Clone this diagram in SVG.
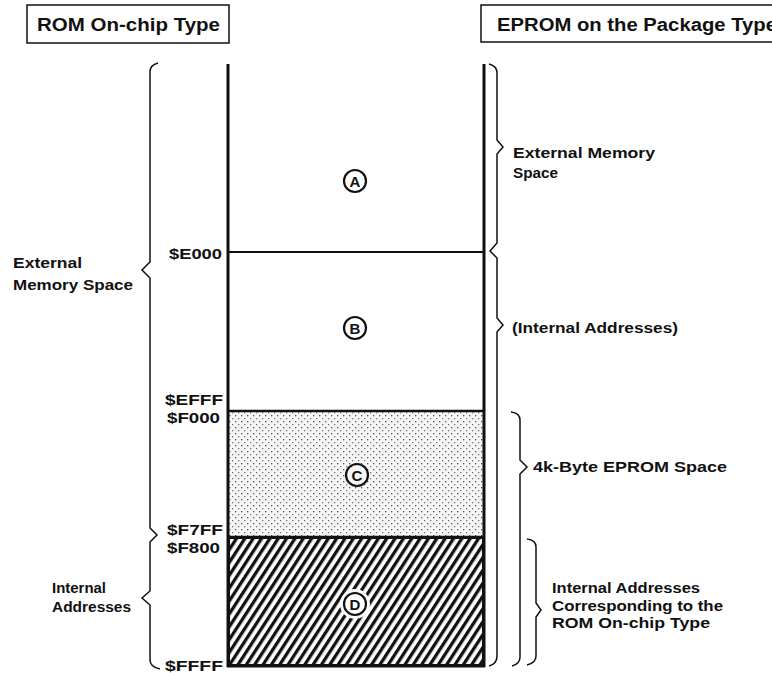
<svg xmlns="http://www.w3.org/2000/svg" width="772" height="673" viewBox="0 0 772 673">
<style>
.t{font-family:"Liberation Sans",Arial,sans-serif;font-weight:bold;fill:#111;}
.lbl{font-size:14px;}
.addr{font-size:15px;}
.title{font-size:18px;}
.br{fill:none;stroke:#111;stroke-width:1.5;stroke-linejoin:miter;}
.col{stroke:#111;stroke-width:3;fill:none;}
.circ{fill:none;stroke:#111;stroke-width:2.2;}
.cl{font-family:"Liberation Sans",Arial,sans-serif;font-weight:bold;font-size:15px;fill:#111;text-anchor:middle;}
</style>
<defs>
<pattern id="dots" width="6" height="6" patternUnits="userSpaceOnUse">
<rect width="6" height="6" fill="#f6f6f6"/>
<rect x="1" y="1" width="1.3" height="1.3" fill="#555"/>
<rect x="4" y="4" width="1.3" height="1.3" fill="#777"/>
</pattern>
<pattern id="hatch" width="7" height="7" patternUnits="userSpaceOnUse" patternTransform="rotate(33)">
<rect width="7" height="7" fill="#fff"/>
<rect width="3.3" height="7" fill="#111"/>
</pattern>
</defs>
<rect width="772" height="673" fill="#fff"/>

<g id="title-rom">
<rect x="27" y="5" width="202" height="38" fill="none" stroke="#111" stroke-width="1.5"/>
<text class="t title" x="37" y="31" textLength="183" lengthAdjust="spacingAndGlyphs">ROM On-chip Type</text>
</g>
<g id="title-eprom">
<rect x="481" y="5" width="300" height="37" fill="none" stroke="#111" stroke-width="1.5"/>
<text class="t title" x="497" y="31" textLength="280" lengthAdjust="spacingAndGlyphs">EPROM on the Package Type</text>
</g>

<g id="region-A">
<circle class="circ" cx="355" cy="181" r="11"/>
<text class="cl" x="355" y="186.5">A</text>
</g>
<g id="region-B">
<circle class="circ" cx="355" cy="328" r="11"/>
<text class="cl" x="355" y="333.5">B</text>
</g>
<g id="region-C">
<rect x="228" y="411" width="256" height="126" fill="url(#dots)"/>
<circle cx="357" cy="475" r="11" fill="#f6f6f6" stroke="#111" stroke-width="2.2"/>
<text class="cl" x="357" y="480.5">C</text>
</g>
<g id="region-D">
<rect x="228" y="537" width="256" height="129" fill="url(#hatch)"/>
<circle cx="355" cy="604" r="15" fill="#fff"/>
<circle class="circ" cx="355" cy="604" r="11"/>
<text class="cl" x="355" y="609.5">D</text>
</g>

<g id="column">
<line class="col" x1="228" y1="64" x2="228" y2="667"/>
<line class="col" x1="484" y1="64" x2="484" y2="667"/>
<line x1="228" y1="252" x2="484" y2="252" stroke="#111" stroke-width="2"/>
<line x1="228" y1="411" x2="484" y2="411" stroke="#111" stroke-width="2.5"/>
<line x1="228" y1="537" x2="484" y2="537" stroke="#111" stroke-width="2.5"/>
<line x1="227" y1="666" x2="485" y2="666" stroke="#111" stroke-width="3"/>
<rect x="229" y="538" width="254" height="127" fill="none" stroke="#111" stroke-width="2"/>
</g>

<g id="addresses">
<text class="t addr" x="222" y="259" text-anchor="end" textLength="53" lengthAdjust="spacingAndGlyphs">$E000</text>
<text class="t addr" x="223" y="405" text-anchor="end" textLength="58" lengthAdjust="spacingAndGlyphs">$EFFF</text>
<text class="t addr" x="220" y="423" text-anchor="end" textLength="53" lengthAdjust="spacingAndGlyphs">$F000</text>
<text class="t addr" x="223" y="535" text-anchor="end" textLength="56" lengthAdjust="spacingAndGlyphs">$F7FF</text>
<text class="t addr" x="220" y="553" text-anchor="end" textLength="53" lengthAdjust="spacingAndGlyphs">$F800</text>
<text class="t addr" x="223" y="671" text-anchor="end" textLength="58" lengthAdjust="spacingAndGlyphs">$FFFF</text>
</g>

<g id="connectors">
<path class="br" d="M158,63 Q150,65 150,72 L150,262 L142,270 L150,278 L150,528 L157,535 L150,542 L150,591 L142,598 L150,605 L150,660 Q150,667 160,669"/>
<path class="br" d="M489,64 Q497,66 497,73 L497,140 L503,147 L497,154 L497,243 L490,251 L497,258 L497,318 L503,325 L497,332 L497,656 Q497,664 489,666"/>
<path class="br" d="M511,412 Q520,413 520,420 L520,460 L527,467 L520,474 L520,657 Q520,664 512,666"/>
<path class="br" d="M527,539 Q536,540 536,547 L536,603 L541,610 L536,617 L536,656 Q536,663 527,665"/>
</g>

<g id="labels-left">
<text class="t lbl" x="13" y="268" textLength="69" lengthAdjust="spacingAndGlyphs">External</text>
<text class="t lbl" x="13" y="290" textLength="120" lengthAdjust="spacingAndGlyphs">Memory Space</text>
<text class="t lbl" x="52" y="593" textLength="54" lengthAdjust="spacingAndGlyphs">Internal</text>
<text class="t lbl" x="52" y="612" textLength="79" lengthAdjust="spacingAndGlyphs">Addresses</text>
</g>
<g id="labels-right">
<text class="t lbl" x="513" y="158" textLength="142" lengthAdjust="spacingAndGlyphs">External Memory</text>
<text class="t lbl" x="513" y="178" textLength="45" lengthAdjust="spacingAndGlyphs">Space</text>
<text class="t lbl" x="512" y="333" textLength="166" lengthAdjust="spacingAndGlyphs">(Internal Addresses)</text>
<text class="t lbl" x="533" y="472" textLength="194" lengthAdjust="spacingAndGlyphs">4k-Byte EPROM Space</text>
<text class="t lbl" x="552" y="593" textLength="148" lengthAdjust="spacingAndGlyphs">Internal Addresses</text>
<text class="t lbl" x="552" y="611" textLength="171" lengthAdjust="spacingAndGlyphs">Corresponding to the</text>
<text class="t lbl" x="552" y="628" textLength="158" lengthAdjust="spacingAndGlyphs">ROM On-chip Type</text>
</g>
</svg>
